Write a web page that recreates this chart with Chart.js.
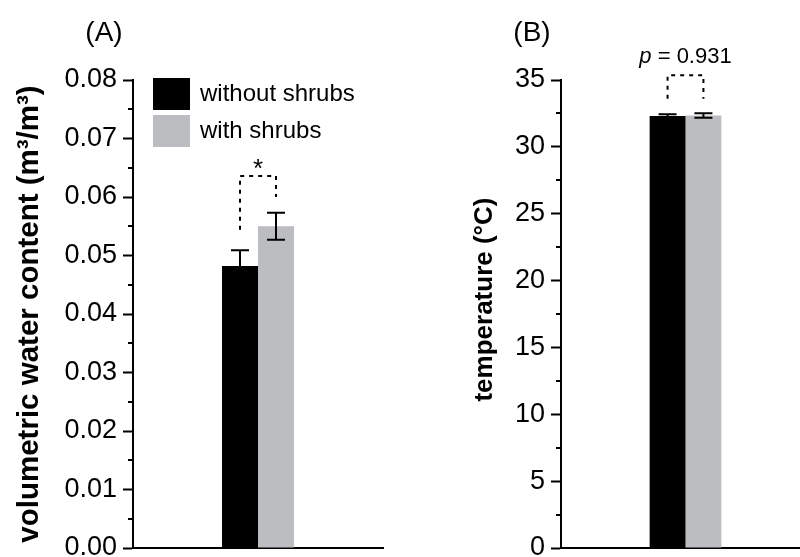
<!DOCTYPE html>
<html>
<head>
<meta charset="utf-8">
<script src="https://cdn.jsdelivr.net/npm/chart.js@4.4.1/dist/chart.umd.min.js"></script>
<style>
  html, body { margin: 0; padding: 0; background: #fff; overflow: hidden; }
  body { width: 800px; height: 557px; position: relative; }
  .panel { position: absolute; top: 0; height: 557px; }
  #panelA { left: 0; width: 400px; }
  #panelB { left: 400px; width: 420px; }
</style>
</head>
<body>
<div class="panel" id="panelA"><canvas id="chartA" width="400" height="557"></canvas></div>
<div class="panel" id="panelB"><canvas id="chartB" width="420" height="557"></canvas></div>
<script>
const seriesLabels = ['without shrubs', 'with shrubs']
const seriesColors = ['#000000', '#bcbdc0']

// (A) soil water
const waterMean = [0.0482, 0.0550]
const waterErr = [0.0027, 0.0023]
const waterTicks = [0, 0.01, 0.02, 0.03, 0.04, 0.05, 0.06, 0.07, 0.08]
// bracket: left leg bottom, right leg bottom, top (axis units)
const waterBracket = [0.0544, 0.0600, 0.0636]
const waterNote = '*'

// (B) temperature
const tempMean = [32.3, 32.35]
const tempErr = [0.13, 0.17]
const tempTicks = [0, 5, 10, 15, 20, 25, 30, 35]
const tempBracket = [33.6, 33.6, 35.35]
const tempNote = 'p = 0.931'

const FONT = "'Liberation Sans', Arial, sans-serif"

// error bars, minor ticks, significance bracket, legend
const extras = {
  id: 'extras',
  afterDatasetsDraw(chart, args, opts) {
    const ctx = chart.ctx
    const y = chart.scales.y
    const area = chart.chartArea

    // minor ticks halfway between the labelled ticks
    ctx.save()
    ctx.strokeStyle = '#000'
    ctx.lineWidth = 2
    const ticks = y.ticks.map(t => t.value)
    for (let i = 0; i < ticks.length - 1; i++) {
      const py = Math.round(y.getPixelForValue((ticks[i] + ticks[i + 1]) / 2))
      ctx.beginPath()
      ctx.moveTo(area.left - 5, py)
      ctx.lineTo(area.left, py)
      ctx.stroke()
    }

    // error bars
    const centers = []
    chart.data.datasets.forEach((ds, i) => {
      const bar = chart.getDatasetMeta(i).data[0]
      centers.push(bar.x)
      const v = ds.data[0], e = opts.errors[i]
      const yTop = y.getPixelForValue(v + e)
      const yBot = y.getPixelForValue(v - e)
      ctx.beginPath()
      ctx.moveTo(bar.x, yTop); ctx.lineTo(bar.x, yBot)
      ctx.moveTo(bar.x - 9, yTop); ctx.lineTo(bar.x + 9, yTop)
      ctx.moveTo(bar.x - 9, yBot); ctx.lineTo(bar.x + 9, yBot)
      ctx.stroke()
    })

    // dashed bracket
    const b = opts.bracket
    const yl = y.getPixelForValue(b[0])
    const yr = y.getPixelForValue(b[1])
    const yt = y.getPixelForValue(b[2])
    ctx.setLineDash([4, 5])
    ctx.beginPath()
    ctx.moveTo(centers[0], yl); ctx.lineTo(centers[0], yt)
    ctx.lineTo(centers[1], yt); ctx.lineTo(centers[1], yr)
    ctx.stroke()
    ctx.setLineDash([])

    // note above bracket
    ctx.fillStyle = '#000'
    ctx.textAlign = 'center'
    ctx.textBaseline = 'alphabetic'
    const mid = (centers[0] + centers[1]) / 2
    if (opts.note.startsWith('p')) {
      const rest = opts.note.slice(1)
      ctx.font = `italic 22px ${FONT}`
      const wp = ctx.measureText('p').width
      ctx.font = `22px ${FONT}`
      const wr = ctx.measureText(rest).width
      const x0 = mid - (wp + wr) / 2
      ctx.textAlign = 'left'
      ctx.font = `italic 22px ${FONT}`
      ctx.fillText('p', x0, yt - 12)
      ctx.font = `22px ${FONT}`
      ctx.fillText(rest, x0 + wp, yt - 12)
    } else {
      ctx.font = `26px ${FONT}`
      ctx.fillText(opts.note, mid, yt + 1)
    }

    // legend
    if (opts.legend) {
      ctx.textAlign = 'left'
      ctx.textBaseline = 'middle'
      ctx.font = `24px ${FONT}`
      chart.data.datasets.forEach((ds, i) => {
        const top = area.top - 2 + i * 37
        ctx.fillStyle = ds.backgroundColor
        ctx.fillRect(area.left + 20, top, 37, 32)
        ctx.fillStyle = '#000'
        ctx.fillText(ds.label, area.left + 67, top + 16)
      })
    }
    ctx.restore()
  }
}

// panel letter
const panelTitle = {
  id: 'panelTitle',
  afterDraw(chart, args, opts) {
    const ctx = chart.ctx
    ctx.save()
    ctx.fillStyle = '#000'
    ctx.font = `28px ${FONT}`
    ctx.textAlign = 'center'
    ctx.textBaseline = 'alphabetic'
    ctx.fillText(opts.text, opts.x, 41)
    ctx.restore()
  }
}

function makeChart(id, means, errs, tickVals, yTitle, opts) {
  const step = tickVals[1] - tickVals[0]
  return new Chart(document.getElementById(id), {
    type: 'bar',
    data: {
      labels: [''],
      datasets: seriesLabels.map((label, i) => ({
        label: label,
        data: [means[i]],
        backgroundColor: seriesColors[i],
        borderWidth: 0,
        barPercentage: 1,
        categoryPercentage: opts.catPct
      }))
    },
    options: {
      responsive: false,
      animation: false,
      events: [],
      layout: { padding: opts.padding },
      plugins: {
        legend: { display: false },
        tooltip: { enabled: false },
        extras: { errors: errs, bracket: opts.bracket, note: opts.note, legend: opts.legend },
        panelTitle: { text: opts.letter, x: opts.letterX }
      },
      scales: {
        x: {
          grid: { display: false },
          border: { display: true, color: '#000', width: 2 },
          ticks: { display: false },
          afterFit: (s) => { s.height = 0 }
        },
        y: {
          min: tickVals[0],
          max: tickVals[tickVals.length - 1],
          afterBuildTicks: (s) => { s.ticks = tickVals.map(v => ({ value: v })) },
          afterFit: (s) => {
            s.width = opts.yWidth
            s.paddingTop = 0
            s.paddingBottom = 0
          },
          border: { display: true, color: '#000', width: 2 },
          grid: { drawOnChartArea: false, tickLength: 10, tickWidth: 2, color: '#000' },
          ticks: {
            stepSize: step,
            padding: 6,
            color: '#000',
            font: { family: FONT, size: 27 },
            callback: (v) => step < 1 ? Number(v).toFixed(2) : String(v)
          },
          title: {
            display: true,
            text: yTitle,
            color: '#000',
            font: { family: FONT, size: opts.titleSize, weight: 'bold' },
            padding: { top: 4, bottom: 4 }
          }
        }
      }
    },
    plugins: [extras, panelTitle]
  })
}

makeChart('chartA', waterMean, waterErr, waterTicks, 'volumetric water content (m³/m³)', {
  padding: { left: 8, right: 17, top: 80, bottom: 9 },
  yWidth: 125,
  catPct: 0.288,
  bracket: waterBracket,
  note: waterNote,
  legend: true,
  letter: '(A)',
  letterX: 104,
  titleSize: 29.5
})

// leading spaces lift the rotated title a little, as in the original
makeChart('chartB', tempMean, tempErr, tempTicks, '    temperature (°C)', {
  padding: { left: 65, right: 10, top: 80, bottom: 9 },
  yWidth: 96,
  catPct: 0.288,
  bracket: tempBracket,
  note: tempNote,
  legend: false,
  letter: '(B)',
  letterX: 132,
  titleSize: 26
})
</script>
</body>
</html>
